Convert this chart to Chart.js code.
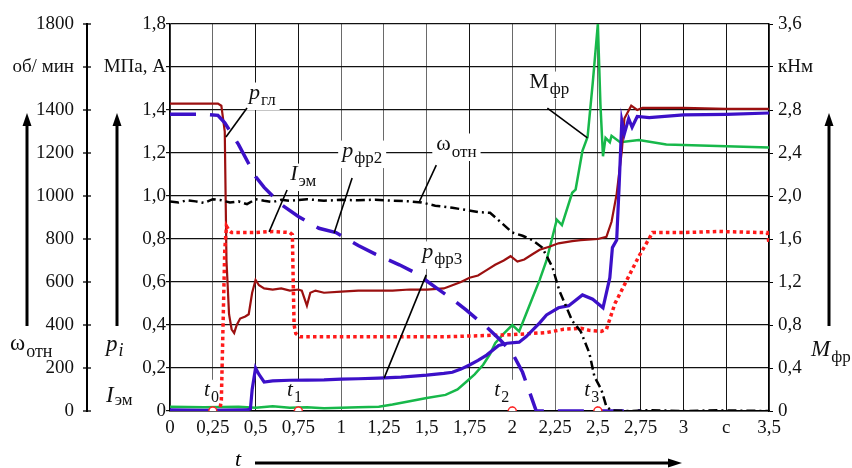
<!DOCTYPE html>
<html><head><meta charset="utf-8">
<style>html,body{margin:0;padding:0;background:#fff}canvas{display:block}</style>
<script src="https://cdn.jsdelivr.net/npm/chart.js@4/dist/chart.umd.min.js"></script>
</head><body>
<canvas id="c" width="852" height="468"></canvas>
<script>
// ---------- tick labels ----------
const xTickVals = [0,0.25,0.5,0.75,1,1.25,1.5,1.75,2,2.25,2.5,2.75,3,3.25,3.5];
const xTickLabels = ['0','0,25','0,5','0,75','1','1,25','1,5','1,75','2','2,25','2,5','2,75','3','c','3,5'];
const pTickVals = [0,0.2,0.4,0.6,0.8,1.0,1.2,1.4,1.6,1.8];
const pTickLabels = ['0','0,2','0,4','0,6','0,8','1,0','1,2','1,4','МПа, А','1,8'];
const omTickVals = [0,200,400,600,800,1000,1200,1400,1600,1800];
const omTickLabels = ['0','200','400','600','800','1000','1200','1400','об/ мин','1800'];
const mTickVals = [0,0.4,0.8,1.2,1.6,2.0,2.4,2.8,3.2,3.6];
const mTickLabels = ['0','0,4','0,8','1,2','1,6','2,0','2,4','2,8','кНм','3,6'];

// ---------- series: p_гл (MPa) ----------
const pglT = [0,0.1,0.2,0.28,0.3,0.32,0.325,0.33,0.345,0.36,0.375,0.39,0.41,0.44,0.46,0.48,0.5,0.52,0.55,0.6,0.65,0.7,0.75,0.77,0.8,0.82,0.85,0.9,1.0,1.1,1.2,1.3,1.4,1.5,1.6,1.65,1.7,1.75,1.8,1.85,1.9,1.95,1.99,2.03,2.07,2.12,2.16,2.22,2.27,2.35,2.4,2.5,2.55,2.58,2.61,2.64,2.655,2.695,2.73,2.76,3.0,3.25,3.5];
const pglV = [1.43,1.43,1.43,1.43,1.42,1.30,1.0,0.7,0.45,0.38,0.363,0.40,0.43,0.44,0.45,0.55,0.61,0.585,0.57,0.565,0.57,0.56,0.565,0.56,0.49,0.55,0.56,0.55,0.555,0.56,0.56,0.56,0.565,0.565,0.57,0.585,0.60,0.62,0.63,0.655,0.68,0.70,0.72,0.695,0.705,0.73,0.75,0.765,0.78,0.79,0.795,0.80,0.81,0.88,1.01,1.21,1.36,1.42,1.40,1.41,1.41,1.405,1.405];

// ---------- series: I_эм (A) ----------
const iemT = [0,0.29,0.3,0.31,0.32,0.33,0.345,0.36,0.4,0.5,0.6,0.7,0.715,0.72,0.725,0.735,0.76,0.8,1.0,1.2,1.4,1.6,1.8,2.0,2.1,2.2,2.3,2.4,2.45,2.52,2.55,2.6,2.67,2.74,2.82,3.0,3.2,3.45,3.49,3.5];
const iemV = [0,0,0.05,0.4,0.75,0.86,0.84,0.83,0.83,0.83,0.835,0.83,0.82,0.6,0.40,0.36,0.345,0.345,0.345,0.345,0.345,0.345,0.35,0.355,0.36,0.365,0.38,0.385,0.375,0.37,0.38,0.5,0.61,0.72,0.83,0.83,0.835,0.83,0.83,0.78];

// ---------- series: p_фр2 (MPa) ----------
const pfr2T = [0,0.1,0.2,0.28,0.32,0.36,0.4,0.46,0.5,0.55,0.6,0.65,0.75,0.87,0.97,1.1,1.2,1.34,1.44,1.56,1.65,1.73,1.85,1.93,2.0,2.06,2.1,2.14,2.4,2.75];
const pfr2V = [1.38,1.38,1.38,1.375,1.34,1.29,1.24,1.15,1.09,1.04,1.0,0.96,0.905,0.85,0.83,0.77,0.73,0.68,0.64,0.57,0.52,0.47,0.39,0.33,0.27,0.18,0.09,0,0,0];

// ---------- series: p_фр3 (MPa) ----------
const pfr3T = [0,0.2,0.45,0.47,0.48,0.5,0.52,0.55,0.6,0.7,0.8,0.9,1.0,1.1,1.22,1.35,1.5,1.6,1.65,1.7,1.75,1.8,1.85,1.92,1.97,2.04,2.08,2.12,2.16,2.2,2.27,2.33,2.41,2.47,2.53,2.57,2.585,2.61,2.625,2.64,2.655,2.68,2.7,2.73,2.8,3.0,3.25,3.5];
const pfr3V = [0.005,0.003,0.005,0.01,0.1,0.2,0.17,0.135,0.14,0.143,0.144,0.145,0.148,0.15,0.153,0.158,0.167,0.175,0.18,0.195,0.214,0.235,0.26,0.305,0.315,0.32,0.345,0.377,0.41,0.447,0.48,0.49,0.54,0.52,0.48,0.62,0.76,0.795,1.06,1.35,1.29,1.36,1.32,1.37,1.365,1.377,1.38,1.386];

// ---------- series: ω_отн (об/мин) ----------
const omT = [0,0.05,0.1,0.15,0.2,0.25,0.3,0.35,0.4,0.45,0.5,0.55,0.6,0.65,0.7,0.8,0.9,1.0,1.1,1.2,1.3,1.4,1.47,1.55,1.65,1.73,1.8,1.87,1.93,2.0,2.06,2.117,2.175,2.234,2.275,2.35,2.4,2.45,2.48,2.52,2.55,2.58,2.7,2.8,3.0,3.2,3.5];
const omV = [975,970,980,975,968,985,980,970,975,962,985,978,972,982,978,985,978,982,980,983,978,975,970,955,945,935,925,922,880,830,815,795,760,670,560,420,370,270,160,100,20,2,0,4,0,3,0];

// ---------- series: M_фр (кНм) ----------
const mfrT = [0,0.2,0.4,0.5,0.6,0.7,0.8,0.9,1.0,1.1,1.22,1.3,1.4,1.5,1.61,1.68,1.73,1.78,1.83,1.87,1.9,1.95,2.0,2.04,2.08,2.12,2.16,2.2,2.26,2.29,2.35,2.37,2.41,2.44,2.47,2.5,2.515,2.53,2.545,2.57,2.58,2.63,2.74,2.9,3.1,3.3,3.5];
const mfrV = [0.04,0.035,0.04,0.03,0.045,0.03,0.035,0.025,0.03,0.035,0.04,0.06,0.09,0.12,0.15,0.2,0.27,0.34,0.43,0.53,0.63,0.72,0.80,0.74,0.9,1.06,1.22,1.40,1.78,1.73,2.03,2.06,2.42,2.55,3.05,3.6,2.85,2.37,2.54,2.50,2.56,2.50,2.52,2.48,2.47,2.46,2.45];

// ---------- instants t0..t3 ----------
const instT = [0.25,0.75,2.0,2.5];
const instV = [0,0,0,0];

// ---------- annotations (in data units t / p) ----------
const annMain = ['p','I','p','ω','M','p','t','t','t','t'];
const annSub  = ['гл','эм','фр2','отн','фр','фр3','0','1','2','3'];
const annItalic = [true,true,true,false,false,true,true,true,true,true];
const annT = [0.462,0.702,1.006,1.556,2.099,1.474,0.199,0.684,1.895,2.421];
const annP = [1.451,1.074,1.181,1.214,1.502,0.712,0.072,0.072,0.072,0.072];
const leadT0 = [0.45,0.684,1.064,1.556,2.205,1.497];
const leadP0 = [1.409,1.028,1.084,1.144,1.409,0.633];
const leadT1 = [0.327,0.579,0.959,1.456,2.439,1.251];
const leadP1 = [1.274,0.833,0.828,0.972,1.270,0.153];

const zip = (t, v) => t.map((x, i) => ({x, y: v[i]}));
const SERIF = '"Liberation Serif", "Times New Roman", serif';
const BLUE = '#3c10c8';

function drawSym(ctx, x, y, main, sub, italic, mSize, sSize, dy, subItalic) {
  ctx.font = (italic ? 'italic ' : '') + mSize + 'px ' + SERIF;
  ctx.fillText(main, x, y);
  const w = ctx.measureText(main).width;
  ctx.font = (subItalic ? 'italic ' : '') + sSize + 'px ' + SERIF;
  ctx.fillText(sub, x + w + 1, y + dy);
  return w + 1 + ctx.measureText(sub).width;
}
function symWidth(ctx, main, sub, italic, mSize, sSize) {
  ctx.font = (italic ? 'italic ' : '') + mSize + 'px ' + SERIF;
  const w = ctx.measureText(main).width;
  ctx.font = sSize + 'px ' + SERIF;
  return w + 1 + ctx.measureText(sub).width;
}
function vArrow(ctx, x, yTop, yBot) {
  ctx.beginPath(); ctx.moveTo(x, yBot); ctx.lineTo(x, yTop + 10); ctx.lineWidth = 3; ctx.strokeStyle = '#000'; ctx.stroke();
  ctx.beginPath(); ctx.moveTo(x, yTop); ctx.lineTo(x - 4.5, yTop + 13); ctx.lineTo(x + 4.5, yTop + 13); ctx.closePath(); ctx.fillStyle = '#000'; ctx.fill();
}

const decor = {
  id: 'decor',
  beforeDraw(chart) {
    const c = chart.ctx; c.save(); c.fillStyle = '#fff'; c.fillRect(0, 0, chart.width, chart.height); c.restore();
  },
  beforeDatasetsDraw(chart) {
    const ctx = chart.ctx, xs = chart.scales.x, ys = chart.scales.y;
    ctx.save();
    ctx.fillStyle = '#fff';
    annMain.forEach((m, i) => {
      const small = i >= 6;
      const ms = small ? 21 : 22, ss = small ? 16 : 17;
      const x = xs.getPixelForValue(annT[i]), y = ys.getPixelForValue(annP[i]);
      const w = symWidth(ctx, m, annSub[i], annItalic[i], ms, ss);
      ctx.fillRect(x - 4, y - ms * 0.75, w + 8, ms * 0.75 + 11);
    });
    ctx.restore();
  },
  afterDatasetsDraw(chart) {
    const ctx = chart.ctx, xs = chart.scales.x, ys = chart.scales.y, om = chart.scales.om;
    ctx.save();
    // leader lines
    ctx.strokeStyle = '#000'; ctx.lineWidth = 1.6;
    leadT0.forEach((t, i) => {
      ctx.beginPath();
      ctx.moveTo(xs.getPixelForValue(t), ys.getPixelForValue(leadP0[i]));
      ctx.lineTo(xs.getPixelForValue(leadT1[i]), ys.getPixelForValue(leadP1[i]));
      ctx.stroke();
    });
    // inner labels
    ctx.fillStyle = '#111'; ctx.textBaseline = 'alphabetic'; ctx.textAlign = 'left';
    annMain.forEach((m, i) => {
      const small = i >= 6;
      drawSym(ctx, xs.getPixelForValue(annT[i]), ys.getPixelForValue(annP[i]), m, annSub[i], annItalic[i],
              small ? 21 : 22, small ? 16 : 17, small ? 6 : (m === 'ω' ? 7 : 6), false);
    });
    // ω axis cross ticks
    ctx.strokeStyle = '#000'; ctx.lineWidth = 1.3;
    omTickVals.forEach(v => {
      const y = om.getPixelForValue(v);
      ctx.beginPath(); ctx.moveTo(om.right - 4, y); ctx.lineTo(om.right + 4, y); ctx.stroke();
    });
    // side quantity labels
    ctx.fillStyle = '#111';
    drawSym(ctx, 10, 350, 'ω', 'отн', false, 23, 18, 7, false);
    drawSym(ctx, 106, 351, 'p', 'i', true, 23, 18, 5, true);
    drawSym(ctx, 106, 402, 'I', 'эм', true, 23, 17, 3, false);
    drawSym(ctx, 811, 356, 'M', 'фр', true, 23, 17, 6, false);
    // arrows
    vArrow(ctx, 27, 113, 326);
    vArrow(ctx, 117, 113, 326);
    vArrow(ctx, 829, 113, 326);
    // time axis arrow
    ctx.font = 'italic 22px ' + SERIF; ctx.fillText('t', 235, 466);
    ctx.beginPath(); ctx.moveTo(255, 463); ctx.lineTo(670, 463); ctx.lineWidth = 3; ctx.stroke();
    ctx.beginPath(); ctx.moveTo(682, 463); ctx.lineTo(668, 458.5); ctx.lineTo(668, 467.5); ctx.closePath(); ctx.fill();
    ctx.restore();
  }
};

const darkX = [0.5, 0.75, 1.75, 2.75, 3, 3.25];
const tickFont = {family: SERIF, size: 19};

new Chart(document.getElementById('c'), {
  type: 'line',
  data: {
    datasets: [
      {label: 't_i', data: zip(instT, instV), showLine: false, pointRadius: 4, pointBorderWidth: 1.5,
       pointBackgroundColor: '#fff', pointBorderColor: '#ff2020', yAxisID: 'y', order: 0},
      {label: 'ω', data: zip(omT, omV), borderColor: '#000', borderWidth: 2.5, borderDash: [9,4,2,4],
       pointRadius: 0, yAxisID: 'om', order: 1},
      {label: 'pфр3', data: zip(pfr3T, pfr3V), borderColor: BLUE, borderWidth: 3.2, pointRadius: 0, yAxisID: 'y', order: 2},
      {label: 'pфр2', data: zip(pfr2T, pfr2V), borderColor: BLUE, borderWidth: 3.5, borderDash: [26,14],
       pointRadius: 0, yAxisID: 'y', order: 3},
      {label: 'Iэм', data: zip(iemT, iemV), borderColor: '#ff1a1a', borderWidth: 3.5, borderDash: [3.5,3.2],
       pointRadius: 0, yAxisID: 'y', order: 4},
      {label: 'pгл', data: zip(pglT, pglV), borderColor: '#9b1010', borderWidth: 2.2, pointRadius: 0, yAxisID: 'y', order: 5},
      {label: 'Mфр', data: zip(mfrT, mfrV), borderColor: '#17b84a', borderWidth: 2.5, pointRadius: 0, yAxisID: 'yR', order: 6}
    ]
  },
  options: {
    responsive: false, animation: false, devicePixelRatio: 1,
    layout: {padding: {left: 0, right: 0, top: 24, bottom: 0}},
    plugins: {legend: {display: false}, tooltip: {enabled: false}},
    elements: {line: {tension: 0, borderCapStyle: 'butt'}},
    scales: {
      x: {
        type: 'linear', min: 0, max: 3.5,
        afterBuildTicks: s => { s.ticks = xTickVals.map(v => ({value: v})); },
        afterFit: s => { s.height = 57; },
        ticks: {callback: (v, i) => xTickLabels[i], font: tickFont, color: '#111', padding: 6, maxRotation: 0, autoSkip: false},
        grid: {color: c => darkX.includes(c.tick && c.tick.value) ? '#151515' : '#6a6a6a', lineWidth: 1, drawTicks: false},
        border: {display: true, color: '#000', width: 1.5}
      },
      y: {
        position: 'left', weight: 0, min: 0, max: 1.8,
        afterBuildTicks: s => { s.ticks = pTickVals.map(v => ({value: v})); },
        afterFit: s => { s.width = 83; },
        ticks: {callback: (v, i) => pTickLabels[i], font: tickFont, color: '#111', padding: 0, autoSkip: false},
        grid: {color: '#111', lineWidth: 1.2, tickLength: 4},
        border: {display: true, color: '#000', width: 1.5}
      },
      om: {
        position: 'left', weight: 1, min: 0, max: 1800,
        afterBuildTicks: s => { s.ticks = omTickVals.map(v => ({value: v})); },
        afterFit: s => { s.width = 87; },
        ticks: {callback: (v, i) => omTickLabels[i], font: tickFont, color: '#111', padding: 5, autoSkip: false},
        grid: {display: false, drawOnChartArea: false},
        border: {display: true, color: '#000', width: 2}
      },
      yR: {
        position: 'right', min: 0, max: 3.6,
        afterBuildTicks: s => { s.ticks = mTickVals.map(v => ({value: v})); },
        afterFit: s => { s.width = 83; },
        ticks: {callback: (v, i) => mTickLabels[i], font: tickFont, color: '#111', padding: 5, autoSkip: false},
        grid: {drawOnChartArea: false, color: '#000', tickLength: 4},
        border: {display: true, color: '#000', width: 1.5}
      }
    }
  },
  plugins: [decor]
});
</script>
</body></html>
